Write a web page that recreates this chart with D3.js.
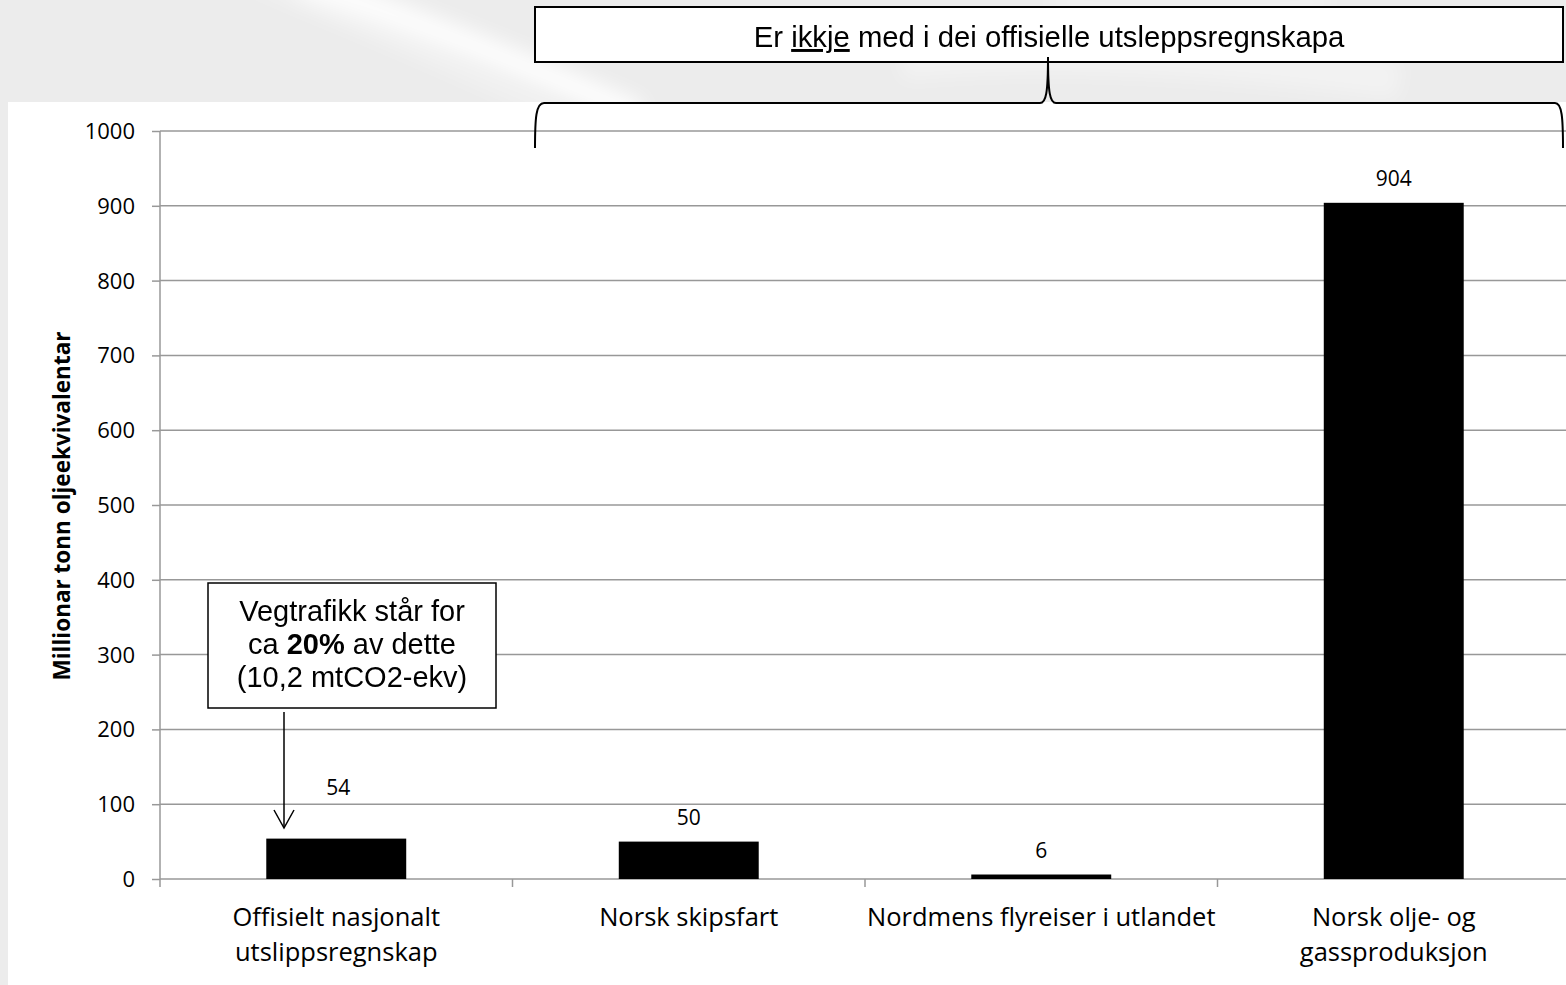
<!DOCTYPE html>
<html>
<head>
<meta charset="utf-8">
<script src="https://cdn.jsdelivr.net/npm/d3@7"></script>
<style>
  html, body { margin: 0; padding: 0; background: #ececec; }
  svg { display: block; }
</style>
</head>
<body>
<svg id="chart" width="1566" height="985"></svg>
<script>
// ---- data ----
const categories = ["Offisielt nasjonalt utslippsregnskap", "Norsk skipsfart", "Nordmens flyreiser i utlandet", "Norsk olje- og gassproduksjon"];
const categoryLines = [["Offisielt nasjonalt", "utslippsregnskap"], ["Norsk skipsfart"], ["Nordmens flyreiser i utlandet"], ["Norsk olje- og", "gassproduksjon"]];
const values = [54, 50, 6, 904];
const yTicks = [0, 100, 200, 300, 400, 500, 600, 700, 800, 900, 1000];
const yLabel = "Millionar tonn oljeekvivalentar";
const topNote = ["Er ", "ikkje", " med i dei offisielle utsleppsregnskapa"];
const boxNote = [["Vegtrafikk står for"], ["ca ", "20%", " av dette"], ["(10,2 mtCO2-ekv)"]];

const svg = d3.select("#chart");
const W = 1566, H = 985;

// ---- background (faded photo watermark) ----
const defs = svg.append("defs");
defs.append("filter").attr("id", "blur").append("feGaussianBlur").attr("stdDeviation", 10);
svg.append("rect").attr("width", W).attr("height", H).attr("fill", "#ececec");
const wm = svg.append("g").attr("filter", "url(#blur)").attr("fill", "none").attr("stroke", "#ffffff");
wm.append("path").attr("d", "M300,-20 Q470,40 640,115").attr("stroke-width", 26).attr("opacity", 0.9);
wm.append("path").attr("d", "M250,-20 Q420,50 560,115").attr("stroke-width", 10).attr("opacity", 0.5);
wm.append("path").attr("d", "M900,60 Q1100,40 1400,80").attr("stroke-width", 40).attr("opacity", 0.35);
wm.append("path").attr("d", "M1050,0 Q1200,20 1330,0").attr("stroke-width", 20).attr("opacity", 0.3);

// white chart area
svg.append("rect").attr("x", 8).attr("y", 102).attr("width", W - 8).attr("height", H - 102).attr("fill", "#ffffff");

// ---- scales ----
const x = d3.scaleBand().domain(categories).range([160, 1570]).padding(0);
const y = d3.scaleLinear().domain([0, 1000]).range([879, 131]);
const barW = x.bandwidth() * 0.397;
const gridColor = "#989898";

// gridlines
svg.append("g").selectAll("line").data(yTicks.filter(d => d > 0)).join("line")
  .attr("x1", 160).attr("x2", W)
  .attr("y1", d => y(d)).attr("y2", d => y(d))
  .attr("stroke", gridColor).attr("stroke-width", 1.5);

// y axis
const yAxis = svg.append("g").attr("transform", "translate(160,0)")
  .call(d3.axisLeft(y).tickValues(yTicks).tickSize(8).tickPadding(17).tickFormat(d3.format("d")));
yAxis.select(".domain").attr("stroke", gridColor).attr("stroke-width", 1.5).attr("d", `M0,${y(1000)}V${y(0) + 8}`);
yAxis.selectAll(".tick line").attr("stroke", gridColor).attr("stroke-width", 1.5);
yAxis.selectAll(".tick text").attr("font-family", "'Open Sans', sans-serif").attr("font-size", 22).attr("fill", "#000").attr("dy", "0.34em");

// x axis line + category ticks
svg.append("line").attr("x1", 160).attr("x2", W).attr("y1", y(0)).attr("y2", y(0)).attr("stroke", gridColor).attr("stroke-width", 1.5);
svg.append("g").selectAll("line").data(categories.slice(1)).join("line")
  .attr("x1", d => x(d)).attr("x2", d => x(d))
  .attr("y1", y(0)).attr("y2", y(0) + 8)
  .attr("stroke", gridColor).attr("stroke-width", 1.5);

// bars
svg.append("g").selectAll("rect").data(values).join("rect")
  .attr("x", (d, i) => x(categories[i]) + x.bandwidth() / 2 - barW / 2)
  .attr("y", d => y(d))
  .attr("width", barW)
  .attr("height", d => y(0) - y(d))
  .attr("fill", "#000");

// value labels (first one lifted to leave room for the arrow)
const labelLift = [44, 17, 17, 17];
svg.append("g").selectAll("text").data(values).join("text")
  .attr("x", (d, i) => x(categories[i]) + x.bandwidth() / 2 + (i === 0 ? 2 : 0))
  .attr("y", (d, i) => y(d) - labelLift[i])
  .attr("text-anchor", "middle")
  .attr("font-family", "'Open Sans', sans-serif").attr("font-size", 21)
  .text(d => d);

// category labels
const catG = svg.append("g");
categoryLines.forEach((lines, i) => {
  const cx = x(categories[i]) + x.bandwidth() / 2;
  const t = catG.append("text")
    .attr("text-anchor", "middle")
    .attr("font-family", "'Open Sans', sans-serif").attr("font-size", 25.5);
  lines.forEach((l, j) => t.append("tspan").attr("x", cx).attr("y", 926 + j * 35).text(l));
});

// y axis title
svg.append("text")
  .attr("transform", "translate(70,506) rotate(-90)")
  .attr("text-anchor", "middle")
  .attr("font-family", "'Open Sans', sans-serif").attr("font-weight", "bold").attr("font-size", 22.5)
  .text(yLabel);

// ---- top note box + brace ----
const boxL = 535, boxR = 1563;
svg.append("rect").attr("x", boxL).attr("y", 7).attr("width", boxR - boxL).attr("height", 55)
  .attr("fill", "#fff").attr("stroke", "#000").attr("stroke-width", 2);
const tn = svg.append("text").attr("x", (boxL + boxR) / 2).attr("y", 47)
  .attr("text-anchor", "middle")
  .attr("font-family", "'Liberation Sans', Arial, sans-serif").attr("font-size", 29.3);
topNote.forEach((s, i) => {
  const sp = tn.append("tspan").text(s);
  if (i === 1) sp.attr("text-decoration", "underline");
});

const mid = 1048, by = 103;
svg.append("path")
  .attr("d", `M${boxL},148 C${boxL},118 ${boxL + 1},${by} ${boxL + 9},${by} L${mid - 8},${by} C${mid - 2},${by} ${mid},${by - 10} ${mid},57 C${mid},${by - 10} ${mid + 2},${by} ${mid + 8},${by} L${boxR - 8},${by} C${boxR - 1},${by} ${boxR},118 ${boxR},148`)
  .attr("fill", "none").attr("stroke", "#000").attr("stroke-width", 2);

// ---- annotation box with arrow ----
svg.append("rect").attr("x", 208).attr("y", 583).attr("width", 288).attr("height", 125)
  .attr("fill", "#fff").attr("stroke", "#000").attr("stroke-width", 1.5);
boxNote.forEach((parts, j) => {
  const t = svg.append("text").attr("x", 352).attr("y", 621 + j * 33)
    .attr("text-anchor", "middle")
    .attr("font-family", "'Liberation Sans', Arial, sans-serif").attr("font-size", 29);
  parts.forEach((p, k) => {
    const sp = t.append("tspan").text(p);
    if (parts.length === 3 && k === 1) sp.attr("font-weight", "bold");
  });
});
const ax = 284;
svg.append("line").attr("x1", ax).attr("x2", ax).attr("y1", 712).attr("y2", 827).attr("stroke", "#000").attr("stroke-width", 1.5);
svg.append("path").attr("d", `M${ax - 10},810 L${ax},828 L${ax + 10},810`).attr("fill", "none").attr("stroke", "#000").attr("stroke-width", 1.5);
</script>
</body>
</html>
